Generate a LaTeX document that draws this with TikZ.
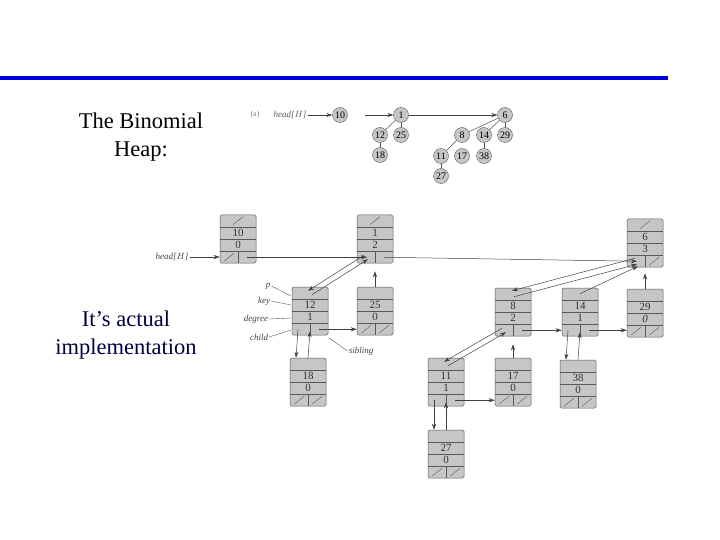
\documentclass[tikz,border=0pt]{standalone}
\usepackage{fontspec}
\setmainfont{Liberation Serif}
\usetikzlibrary{arrows.meta}
\begin{document}
\begin{tikzpicture}[x=1pt,y=-1pt,
  rec/.style={draw=gray!70!black,fill=gray!45,rounded corners=1.5pt,minimum width=36pt,minimum height=48pt,inner sep=0pt,line width=0.5pt},
  fld/.style={font=\fontsize{11}{11}\selectfont,text=black!80,inner sep=0pt},
  ptr/.style={gray!50!black,line width=0.5pt,-{Stealth[length=6pt,width=4pt]}},
  lbl/.style={font=\fontsize{9}{9}\selectfont\itshape,text=black!75,inner sep=1pt},
  ld/.style={gray!70!black,line width=0.4pt},
  circ/.style={circle,draw=gray!70!black,fill=gray!45,minimum size=15pt,inner sep=0pt,font=\fontsize{10}{10}\selectfont},
  tl/.style={gray!60!black,line width=0.5pt},
  big/.style={font=\fontsize{22.5}{28}\selectfont,align=center,inner sep=0pt}]
\useasboundingbox (0,0) rectangle (720,540);
\fill[blue!85!black] (0,76) rectangle (668,80.5);
\node[big] (t1) at (141,137) {The Binomial\\Heap:};
\node[big,text=blue!25!black] (t2) at (126,335) {It’s actual\\implementation};
% top tree
\node[font=\fontsize{8}{8}\selectfont,text=gray] (a) at (255,115) {(a)};
\node[lbl,text=gray!70!black] (hh) at (290,115) {head[$H$]};
\foreach \n/\x/\y in {10/340/115,1/401/115,6/505/115,12/380/135,25/401/135,18/380/155,8/462/135,14/484/135,29/505/135,11/441/156,17/462/156,38/484/156,27/441/176}
  \node[circ] (c\n) at (\x,\y) {\n};
\draw[ptr] (hh) -- (c10);
\draw[ptr] (365,115) -- (c1);
\draw[ptr] (c1) -- (c6);
\foreach \a/\b in {1/12,1/25,12/18,6/8,6/14,6/29,8/11,14/38,11/27} \draw[tl] (c\a) -- (c\b);
% records
\newcommand\rec[8]{%
  \node[rec] (#1) at (#2,#3) {};
  \draw[ld] ([yshift=-12pt]#1.north west) -- ([yshift=-12pt]#1.north east)
            (#1.west) -- (#1.east)
            ([yshift=12pt]#1.south west) -- ([yshift=12pt]#1.south east)
            ([yshift=12pt]#1.south) -- (#1.south);
  \node[fld] (#1k) at ([yshift=-18pt]#1.north) {#4};
  \node[fld] (#1d) at ([yshift=-6pt]#1.center) {#5};
  \coordinate (#1p) at ([yshift=-6pt]#1.north);
  \coordinate (#1c) at ([xshift=-9pt,yshift=6pt]#1.south);
  \coordinate (#1s) at ([xshift=9pt,yshift=6pt]#1.south);
  \ifnum#6=1 \draw[ld] ([xshift=-5pt,yshift=-10pt]#1.north) -- ([xshift=5pt,yshift=-2pt]#1.north);\fi
  \ifnum#7=1 \draw[ld] ([xshift=-14pt,yshift=2pt]#1.south) -- ([xshift=-4pt,yshift=10pt]#1.south);\fi
  \ifnum#8=1 \draw[ld] ([xshift=4pt,yshift=2pt]#1.south) -- ([xshift=14pt,yshift=10pt]#1.south);\fi
}
\rec{r10}{238}{239}{10}{0}{1}{1}{0}
\rec{r1}{375}{239}{1}{2}{1}{0}{0}
\rec{r6}{645}{243}{6}{3}{1}{0}{1}
\rec{r12}{310}{311}{12}{1}{0}{0}{0}
\rec{r25}{375}{311}{25}{0}{0}{1}{1}
\rec{r8}{513}{312}{8}{2}{0}{0}{0}
\rec{r14}{580}{312}{14}{1}{0}{0}{0}
\rec{r29}{645}{313}{29}{\itshape 0}{0}{1}{1}
\rec{r18}{308}{382}{18}{0}{0}{1}{1}
\rec{r11}{446}{382}{11}{1}{0}{0}{0}
\rec{r17}{513}{382}{17}{0}{0}{1}{1}
\rec{r38}{578}{384}{38}{0}{0}{1}{1}
\rec{r27}{446}{454}{27}{0}{0}{1}{1}
% head
\node[lbl] (head) at (172,257) {head[$H$]};
\draw[ptr] (head) -- (r10.south west |- head);
% siblings
\draw[ptr] (r10s) -- ([xshift=-8pt,yshift=6pt]r1.south);
\draw[ptr] (r1s) -- ([xshift=-8pt,yshift=6pt]r6.south);
\draw[ptr] (r12s) -- (r25.west |- r12s);
\draw[ptr] (r8s) -- (r14.west |- r8s);
\draw[ptr] (r14s) -- (r29.west |- r14s);
\draw[ptr] (r11s) -- (r17.west |- r11s);
% child/parent pairs (parallel)
\draw[ptr] ([shift={(-2,-2)}]r1c) -- ([shift={(-2,-2)}]r12p);
\draw[ptr] ([shift={(2,2)}]r12p) -- ([shift={(2,2)}]r1c);
\draw[ptr] (r25.north) -- ([yshift=-8pt]r1.south);
\draw[ptr] ([xshift=-3pt]r12c) -- ([xshift=-12pt]r18.north);
\draw[ptr] (r18.north) -- ([yshift=4pt]r12.south);
\draw[ptr] ([shift={(-1,-3)}]r6c) -- ([shift={(-1,-3)}]r8p);
\draw[ptr] ([shift={(1,3)}]r8p) -- ([shift={(1,3)}]r6c);
\draw[ptr] (r14p) -- ([shift={(2,5)}]r6c);
\draw[ptr] (r29.north) -- ([yshift=-6pt]r6.south);
\draw[ptr] ([shift={(-2,-2)}]r8c) -- ([shift={(-2,-2)}]r11p);
\draw[ptr] ([shift={(2,2)}]r11p) -- ([shift={(2,2)}]r8c);
\draw[ptr] (r17.north) -- ([yshift=-8pt]r8.south);
\draw[ptr] ([xshift=-3pt]r11c) -- ([xshift=-12pt]r27.north);
\draw[ptr] (r27.north) -- ([yshift=4pt]r11.south);
\draw[ptr] ([xshift=-3pt]r14c) -- ([xshift=-12pt]r38.north);
\draw[ptr] (r38.north) -- ([yshift=4pt]r14.south);
% field labels
\node[lbl] (lp) at (268,286) {p};
\node[lbl] (lk) at (264,301) {key};
\node[lbl] (ldg) at (256,319) {degree};
\node[lbl] (lc) at (259,337) {child};
\node[lbl] (ls) at (361,351) {sibling};
\draw[ld] (lp.east) -- (291,296);
\draw[ld] (lk.east) -- (291,305);
\draw[ld] (ldg.east) -- (291,318);
\draw[ld] (lc.east) -- (291,330);
\draw[ld] (ls.west) -- (329,338);
\end{tikzpicture}
\end{document}
